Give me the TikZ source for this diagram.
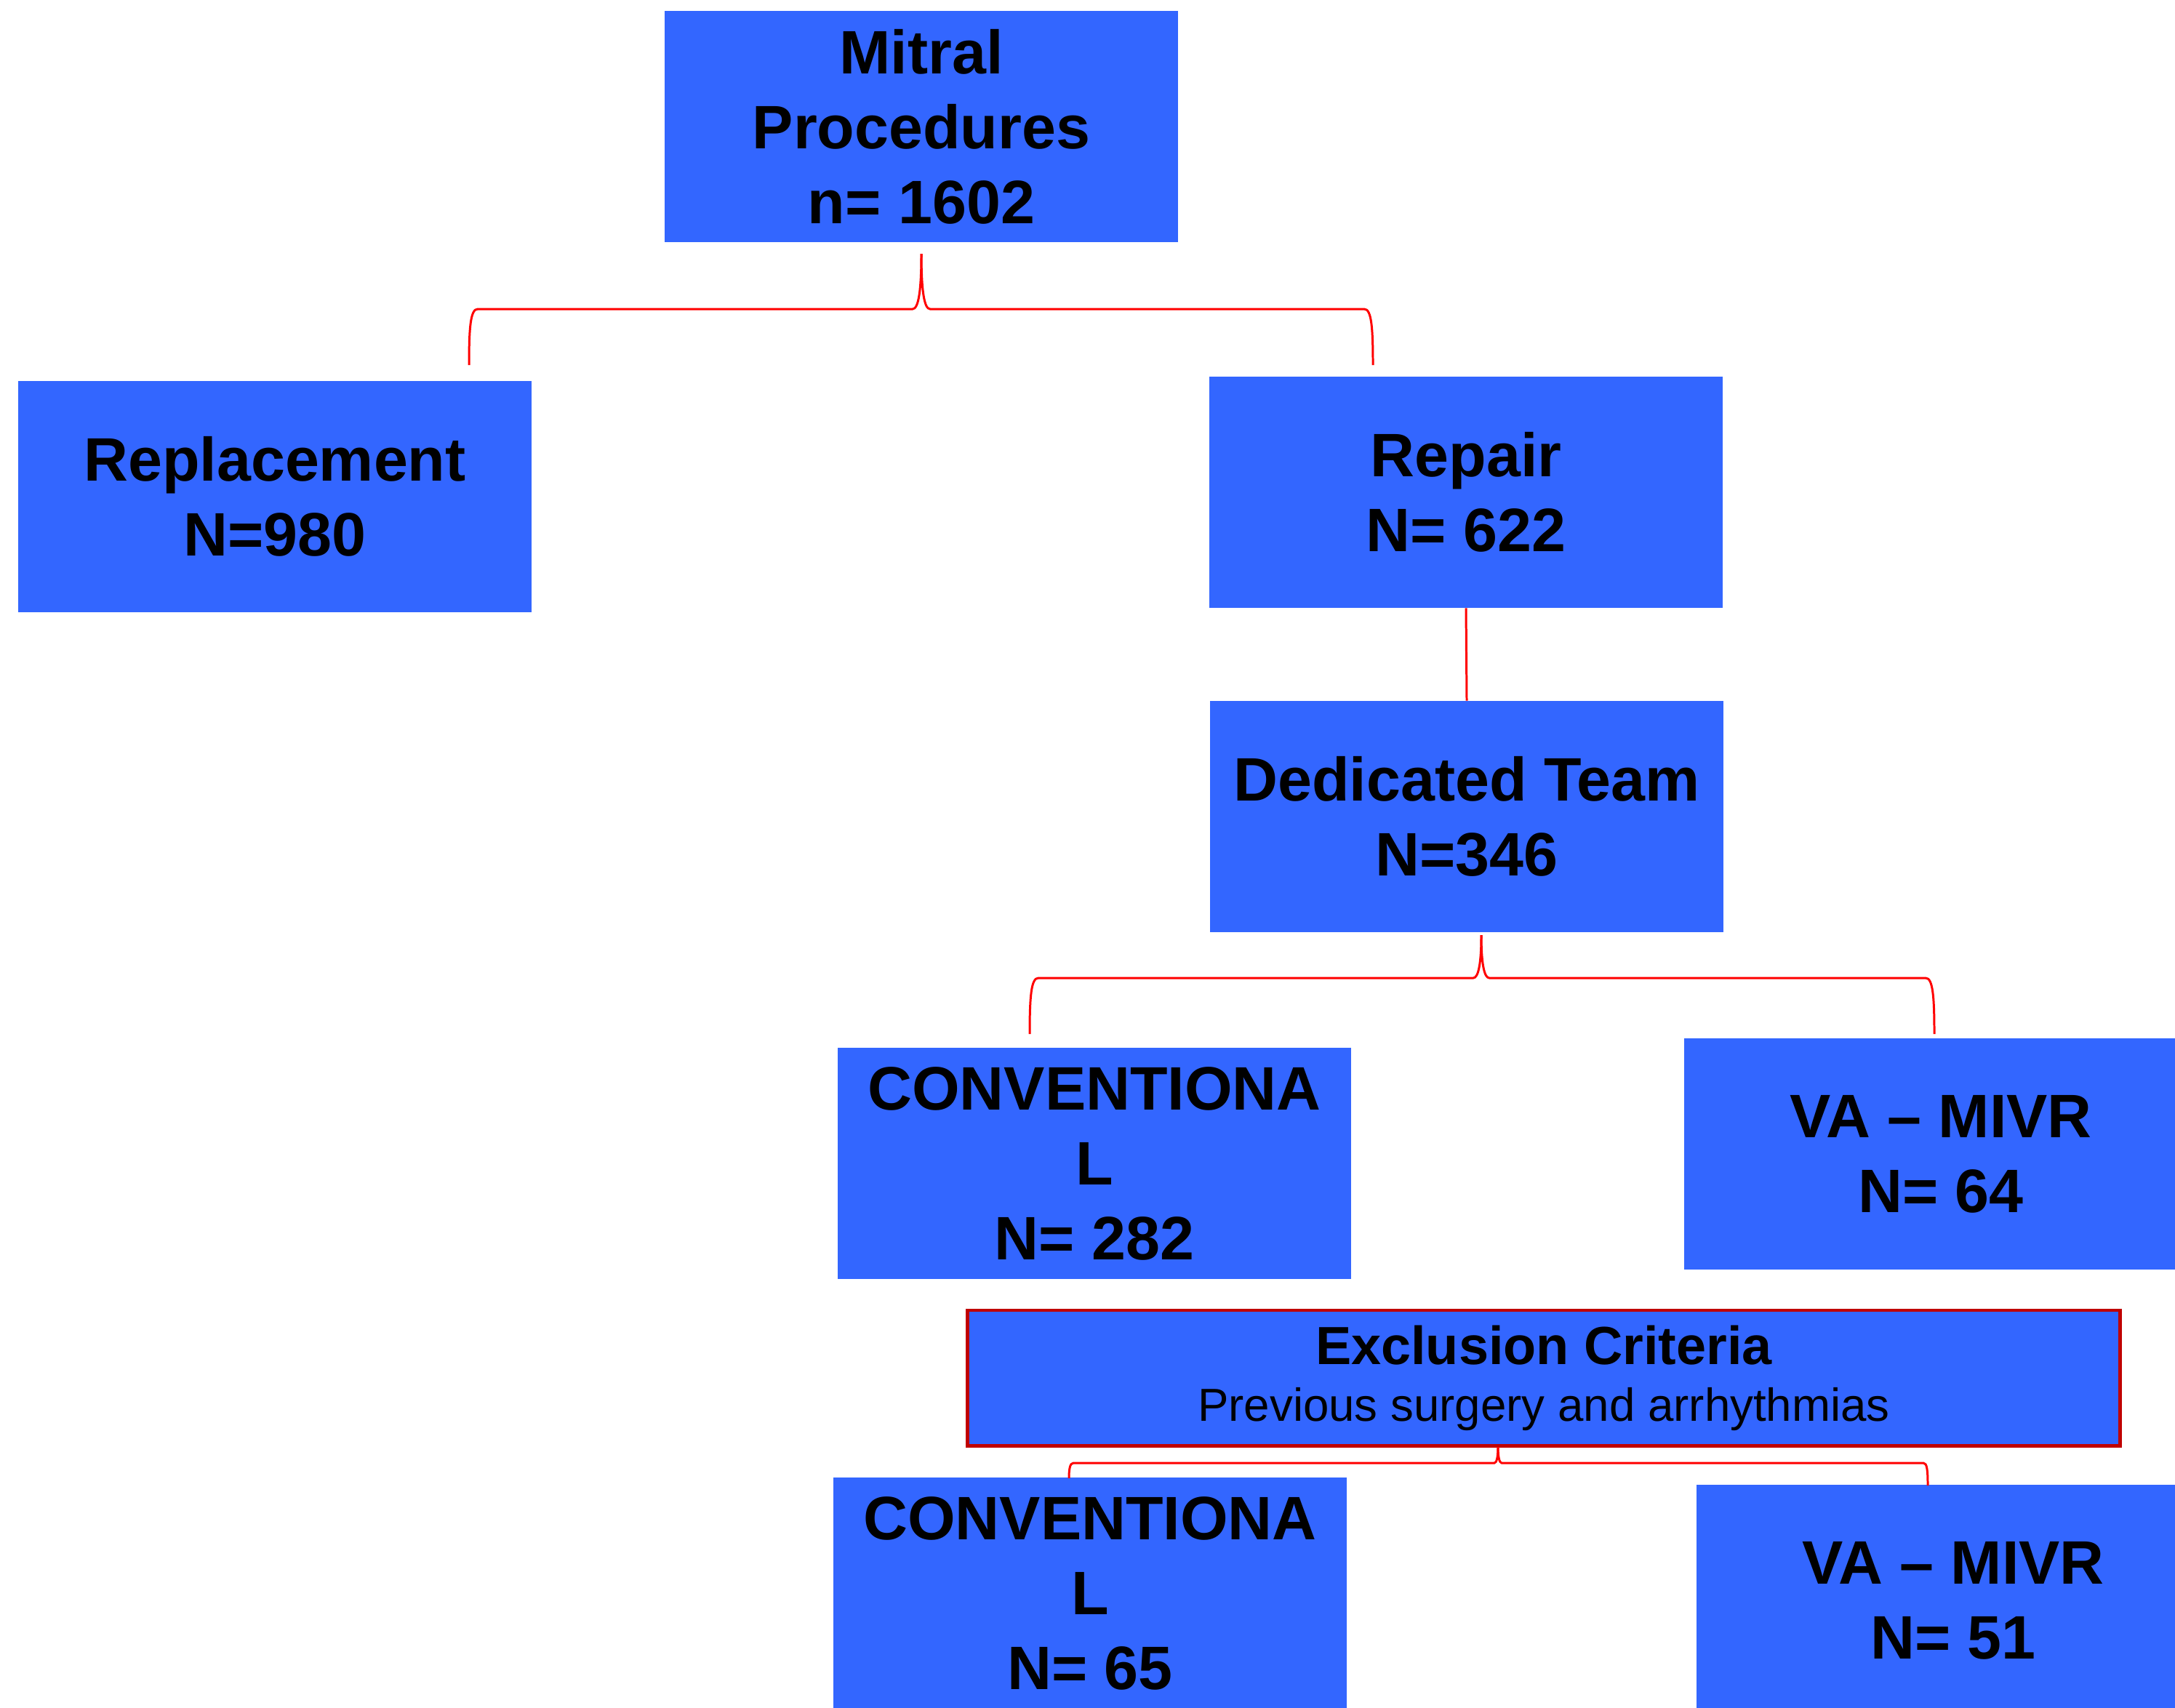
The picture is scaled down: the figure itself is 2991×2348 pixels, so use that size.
\documentclass[tikz,border=0pt]{standalone}
\usepackage{fontspec}
\setmainfont{Liberation Sans}
\definecolor{boxblue}{RGB}{51, 102, 255}
\definecolor{darkred}{RGB}{192, 0, 0}

\tikzset{
  box/.style={fill=boxblue, minimum width=7.06cm, minimum height=3.17cm, inner sep=0pt,
    align=center, font=\bfseries\fontsize{24}{29.3}\selectfont},
  exclbox/.style={fill=boxblue, draw=darkred, line width=1.4pt, minimum width=15.84cm,
    minimum height=1.86cm, inner sep=0pt, align=center, font=\fontsize{18.1}{22.2}\selectfont},
  link/.style={red, line width=0.85pt}
}

\begin{document}
\begin{tikzpicture}[x=0.01cm, y=-0.01cm]
    \useasboundingbox (0,0) rectangle (2991,2348);
    \clip (0,0) rectangle (2991,2348);

    % Top
    \node[box] (mitral) at (1267,174) {Mitral\\Procedures\\n= 1602};

    % Second row
    \node[box] (replacement) at (378,683) {Replacement\\N=980};
    \node[box] (repair) at (2016,677) {Repair\\N= 622};

    % Dedicated team
    \node[box] (team) at (2017,1123) {Dedicated Team\\N=346};

    % Split of the team
    \node[box] (conv1) at (1505,1600) {CONVENTIONA\\L\\N= 282};
    \node[box] (mivr1) at (2669,1587) {VA \textendash{} MIVR\\N= 64};

    % Exclusion
    \node[exclbox] (excl) at (2123,1895)
      {{\bfseries\fontsize{21}{22.2}\selectfont Exclusion Criteria}\\
       Previous surgery and arrhythmias};

    % After exclusion
    \node[box] (conv2) at (1499,2191) {CONVENTIONA\\L\\N= 65};
    \node[box] (mivr2) at (2686,2201) {VA \textendash{} MIVR\\N= 51};

    % Brace ends
    \coordinate (tip1) at (1267,349);
    \coordinate (tip2) at (2037,1286);
    \coordinate (tip3) at (2060,1990);

    % Brace below Mitral Procedures
    \draw[link] (tip1) .. controls (1267,400) and (1263,425) .. (1255,425) -- (657,425)
      .. controls (647,425) and (645,450) .. (645,502);
    \draw[link] (tip1) .. controls (1267,400) and (1271,425) .. (1279,425) -- (1876,425)
      .. controls (1886,425) and (1888,450) .. (1888,502);

    % Repair to team
    \draw[link] (repair.south) -- (team.north);

    % Brace below Dedicated Team
    \draw[link] (tip2) .. controls (2037,1325) and (2033,1345) .. (2026,1345) -- (1428,1345)
      .. controls (1418,1345) and (1416,1370) .. (1416,1422);
    \draw[link] (tip2) .. controls (2037,1325) and (2041,1345) .. (2048,1345) -- (2648,1345)
      .. controls (2658,1345) and (2660,1370) .. (2660,1422);

    % Brace below Exclusion Criteria
    \draw[link] (tip3) .. controls (2060,2004) and (2058,2012) .. (2055,2012) -- (1476,2012)
      .. controls (1471,2012) and (1470,2022) .. (1470,2033);
    \draw[link] (tip3) .. controls (2060,2004) and (2062,2012) .. (2065,2012) -- (2645,2012)
      .. controls (2650,2012) and (2651,2022) .. (2651,2043);
\end{tikzpicture}
\end{document}
